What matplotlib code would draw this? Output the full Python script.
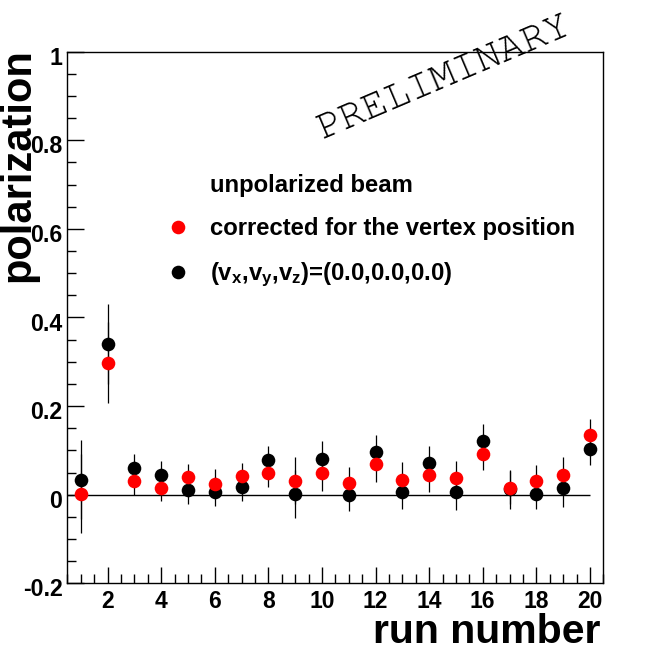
import matplotlib
matplotlib.use("Agg")
import matplotlib.pyplot as plt
from matplotlib.ticker import MultipleLocator, FixedLocator, FixedFormatter
from matplotlib.lines import Line2D
import matplotlib.transforms as mtransforms
from matplotlib import font_manager

# ---- data ----
runs = list(range(1, 21))
pol_vertex0 = [0.034, 0.340, 0.061, 0.044, 0.011, 0.007, 0.018, 0.079, 0.001, 0.080,
               0.000, 0.096, 0.005, 0.072, 0.005, 0.122, 0.012, 0.001, 0.014, 0.104]
err_vertex0 = [0.089, 0.090, 0.032, 0.031, 0.031, 0.032, 0.032, 0.030, 0.054, 0.042,
               0.036, 0.038, 0.038, 0.037, 0.040, 0.037, 0.044, 0.034, 0.041, 0.036]
pol_corrected = [0.002, 0.298, 0.032, 0.016, 0.039, 0.025, 0.042, 0.048, 0.032, 0.050,
                 0.027, 0.069, 0.034, 0.044, 0.037, 0.093, 0.016, 0.032, 0.044, 0.134]
err_corrected = [0.089, 0.091, 0.033, 0.031, 0.031, 0.032, 0.030, 0.030, 0.054, 0.042,
                 0.036, 0.041, 0.039, 0.037, 0.040, 0.038, 0.037, 0.034, 0.040, 0.038]
ytick_vals = [-0.2, 0.0, 0.2, 0.4, 0.6, 0.8, 1.0]
ytick_labels = ["-0.2", "0", "0.2", "0.4", "0.6", "0.8", "1"]
xtick_vals = [2, 4, 6, 8, 10, 12, 14, 16, 18, 20]
header = "unpolarized beam"
label_corr = "corrected for the vertex position"
label_v0 = r"(v$_{\mathbf{x}}$,v$_{\mathbf{y}}$,v$_{\mathbf{z}}$)=(0.0,0.0,0.0)"
watermark = "PRELIMINARY"

plt.rcParams["font.family"] = ["Liberation Sans", "DejaVu Sans"]
plt.rcParams["font.weight"] = "bold"
plt.rcParams["mathtext.fontset"] = "custom"
plt.rcParams["mathtext.rm"] = "Liberation Sans:bold"
plt.rcParams["mathtext.it"] = "Liberation Sans:bold"
plt.rcParams["mathtext.bf"] = "Liberation Sans:bold"

# pick a Courier-like typewriter font if available
installed = {f.name for f in font_manager.fontManager.ttflist}
mono_family, mono_size = "Liberation Mono", 29.7
for name, size in [("Nimbus Mono PS", 29.7), ("Courier New", 29.7), ("FreeMono", 29.7),
                   ("TeX Gyre Cursor", 29.7), ("Courier 10 Pitch", 29.7), ("cmtt10", 32)]:
    if name in installed:
        mono_family, mono_size = name, size
        break

W, H = 670, 648
fig = plt.figure(figsize=(W / 100, H / 100), dpi=100)
ax = fig.add_axes([67.3 / W, 1 - 583.3 / H, 536 / W, 531.6 / H])

ax.set_xlim(0.5, 20.5)
ax.set_ylim(-0.2, 1.0)

ax.hlines(0, 0.5, 20, color="black", lw=1.0)

ms = 9.8
eb_kw = dict(fmt="o", ms=ms, ecolor="black", elinewidth=0.9, capsize=2.8, capthick=1.0,
             mew=0)
ax.errorbar(runs, pol_vertex0, yerr=err_vertex0, color="black", zorder=3, **eb_kw)
ax.errorbar(runs, pol_corrected, yerr=err_corrected, color="#ff0000", zorder=4, **eb_kw)

for s in ax.spines.values():
    s.set_linewidth(1.0)

ax.yaxis.set_major_locator(FixedLocator(ytick_vals))
ax.yaxis.set_major_formatter(FixedFormatter(ytick_labels))
ax.yaxis.set_minor_locator(MultipleLocator(0.05))
ax.xaxis.set_major_locator(FixedLocator(xtick_vals))
ax.xaxis.set_minor_locator(MultipleLocator(0.5))

ax.tick_params(which="both", direction="in", top=False, right=False, width=1.0)
ax.tick_params(axis="y", which="major", length=12, pad=3.5, labelsize=16.7)
ax.tick_params(axis="y", which="minor", length=6.5)
ax.tick_params(axis="x", which="major", length=11.5, pad=4.5, labelsize=16.5)
ax.tick_params(axis="x", which="minor", length=6.5)
for lab in ax.get_yticklabels():
    lab.set_fontweight("bold")
    lab.set_transform(lab.get_transform() + mtransforms.ScaledTranslation(0, -3 / 72, fig.dpi_scale_trans))
for lab in ax.get_xticklabels():
    lab.set_fontweight("bold")

fig.text(38 / W, 1 - 48 / H, "polarization", rotation=90, ha="right", va="top",
         fontsize=30, fontweight="bold")
fig.text(600 / W, 1 - 643 / H, "run number", ha="right", va="baseline",
         fontsize=29.5, fontweight="bold")

fig.text(447 / W, 1 - 86 / H, watermark, rotation=23, rotation_mode="anchor",
         ha="center", va="baseline", fontsize=mono_size, family=mono_family,
         fontweight="normal")

h_blank = Line2D([], [], linestyle="none", marker=None)
h_red = Line2D([], [], linestyle="none", marker="o", ms=ms, color="#ff0000", mew=0)
h_blk = Line2D([], [], linestyle="none", marker="o", ms=ms, color="black", mew=0)
leg = fig.legend([h_blank, h_red, h_blk], [header, label_corr, label_v0],
                 loc="upper left", bbox_to_anchor=(166.5 / W, 1 - 174 / H),
                 frameon=False, fontsize=17.2, handlelength=1.0, handletextpad=0.82,
                 labelspacing=0.85, borderpad=0, borderaxespad=0, numpoints=1)
for t in leg.get_texts():
    t.set_fontweight("bold")

fig.savefig("out.png", dpi=100)
